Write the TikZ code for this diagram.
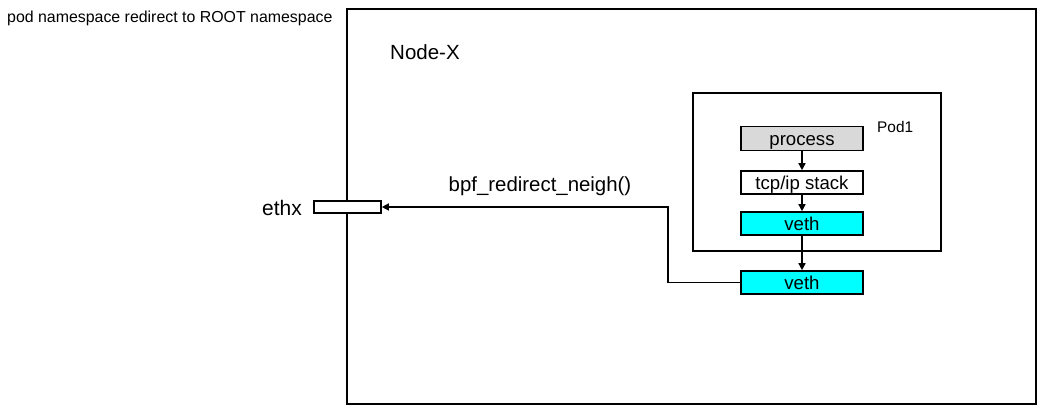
\documentclass[tikz,border=0pt]{standalone}
\usepackage{fontspec}
\setmainfont{Liberation Sans}
\usetikzlibrary{arrows.meta}
\definecolor{cyanbox}{RGB}{0,255,255}
\definecolor{graybox}{RGB}{217,217,217}
\begin{document}
\begin{tikzpicture}[x=1pt,y=-1pt,
  box/.style={draw,line width=1.6pt},
  comp/.style={draw,line width=1.6pt,minimum width=122pt,minimum height=24pt,inner sep=0pt,text height=15pt,text depth=2pt,font=\fontsize{18.6}{20}\selectfont},
  conn/.style={line width=1.4pt,-{Triangle[length=7pt,width=7pt]}}]
\useasboundingbox (0,0) rectangle (1044,413);
\node[anchor=base west,inner sep=0pt,font=\fontsize{15.9}{18}\selectfont] (title) at (7,22) {pod namespace redirect to ROOT namespace};
\draw[box] (347,9) rectangle (1036,404);
\node[anchor=base west,inner sep=0pt,font=\fontsize{20.5}{24}\selectfont] (nodex) at (390,59) {Node-X};
\draw[box] (693,93) rectangle (941,251);
\node[anchor=base west,inner sep=0pt,font=\fontsize{15.4}{18}\selectfont] (pod) at (877,132) {Pod1};
\node[comp,fill=graybox] (proc) at (802,138.5) {process};
\node[comp,fill=white,minimum height=23pt] (tcp) at (802,182.5) {tcp/ip stack};
\node[comp,fill=cyanbox,minimum height=23pt] (veth1) at (802,223.5) {veth};
\node[comp,fill=cyanbox,minimum height=23pt] (veth2) at (802,282.5) {veth};
\node[draw,line width=1.6pt,minimum width=67pt,minimum height=12pt,inner sep=0pt,fill=white] (ethx) at (347.5,207) {};
\node[anchor=east,inner sep=0pt,font=\fontsize{21}{24}\selectfont] (ethxl) at (302,208) {ethx};
\node[inner sep=0pt,font=\fontsize{20.4}{24}\selectfont] (bpf) at (540,186) {bpf\_redirect\_neigh()};
\draw[conn] (proc) -- (tcp);
\draw[conn] (tcp) -- (veth1);
\draw[conn] (veth1) -- (veth2);
\coordinate (c1) at (668,282.5);
\coordinate (c2) at (668,207);
\draw[conn] (veth2.west) -- (c1) -- (c2) -- (ethx.east);
\end{tikzpicture}
\end{document}
